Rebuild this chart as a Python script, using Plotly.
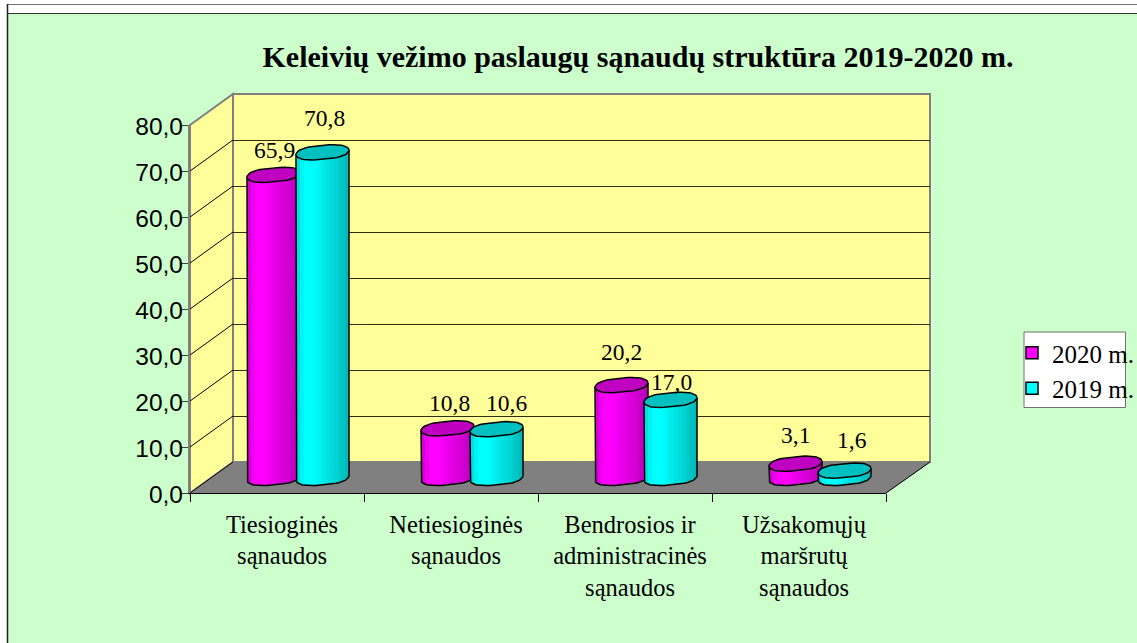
import plotly.graph_objects as go
import math

categories = ["Tiesioginės<br>sąnaudos", "Netiesioginės<br>sąnaudos",
              "Bendrosios ir<br>administracinės<br>sąnaudos", "Užsakomųjų<br>maršrutų<br>sąnaudos"]
values_2020 = [65.9, 10.8, 20.2, 3.1]
values_2019 = [70.8, 10.6, 17.0, 1.6]
y_ticks = [0, 10, 20, 30, 40, 50, 60, 70, 80]
series_names = ["2020 m.", "2019 m."]

W, H = 1137, 643
FRONT_L, FRONT_R, FRONT_B, FRONT_T = 190, 886, 493, 125
WALL_L, WALL_R, WALL_B, WALL_T = 233, 930, 462, 94
PX_PER_UNIT_Y = (FRONT_B - FRONT_T) / 80
PX_PER_CAT = (FRONT_R - FRONT_L) / 4
BAR_BASE_Y = 478
BAR_X0 = 212
PAD = 5  # data units below 0 / above 80 on bar axes

def fx(p): return p / W
def fy(p): return 1 - p / H

bar_dom_y = [fy(BAR_BASE_Y + PAD * PX_PER_UNIT_Y), fy(BAR_BASE_Y - 85 * PX_PER_UNIT_Y)]
bar_dom_x = [fx(BAR_X0), fx(BAR_X0 + 4 * PX_PER_CAT)]

BAR_W = 53 / PX_PER_CAT
OFFSETS = [-25.5 / PX_PER_CAT, 23.5 / PX_PER_CAT]
CAP_B = 7 / PX_PER_UNIT_Y
CAP_TILT = 2.2 / PX_PER_UNIT_Y
ROUND = 0.7

shade_mag = ["#D800D8", "#F000F0", "#FF00FF", "#FF00FF", "#FF00FF", "#F800F8", "#EE00EE", "#E800E8",
             "#E000E0", "#DA00DA", "#D400D4", "#CC00CC", "#C400C4", "#BC00BC"]
shade_cya = ["#00E0E0", "#00F4F4", "#00FFFF", "#00FFFF", "#00FFFF", "#00F8F8", "#00F0F0", "#00EAEA",
             "#00E2E2", "#00DCDC", "#00D4D4", "#00CCCC", "#00C4C4", "#00BABA"]
shades = [shade_mag, shade_cya]
base_col = ["#FF00FF", "#00FFFF"]
cap_col = ["#C000C0", "#00C0C0"]
series = [values_2020, values_2019]
label_nudge = [[(1, 25), (2, 34)], [(2, 25), (10, 26)], [(0, 33), (1, 18)], [(0, 29), (7, 31)]]

def ring(a):
    c = math.cos(a)
    return math.copysign(abs(c) ** ROUND, c), math.sin(a)

fig = go.Figure()

# carriers for the front axes, the back wall and the category labels
for xa, ya in [("x", "y"), ("x", "y5"), ("x2", "y2"), ("x5", "y")]:
    fig.add_trace(go.Scatter(x=[0], y=[0], xaxis=xa, yaxis=ya, mode="none", showlegend=False, hoverinfo="skip"))

for s, vals in enumerate(series):
    xa, ya = ("x3", "y3") if s == 0 else ("x4", "y4")
    xs = [i + OFFSETS[s] for i in range(4)]
    fig.add_trace(go.Bar(x=xs, y=vals, width=BAR_W * 0.7, name=series_names[s], xaxis=xa, yaxis=ya,
                         legendgroup=series_names[s],
                         marker=dict(color=base_col[s], line=dict(color="black", width=1.5)),
                         hoverinfo="skip"))
    n = len(shades[s])
    for k, col in enumerate(shades[s]):
        t = (k + 0.5) / n * 2 - 1
        dy = CAP_B * math.sqrt(max(0, 1 - abs(t) ** (2 / ROUND)))
        tilt = CAP_TILT * t
        fig.add_trace(go.Bar(x=[x + t * BAR_W / 2 for x in xs], y=[v + dy for v in vals],
                             base=[-dy + tilt] * 4, width=BAR_W / n * 1.02, xaxis=xa, yaxis=ya,
                             showlegend=False, hoverinfo="skip",
                             marker=dict(color=col, line=dict(width=0))))
    # outline of the side, and the cap
    ox, oy, cx, cy = [], [], [], []
    N = 24
    for x, v in zip(xs, vals):
        ox.append(x - BAR_W / 2); oy.append(v - CAP_TILT)
        for j in range(N + 1):
            rx, ry = ring(math.pi + math.pi * j / N)
            ox.append(x + rx * BAR_W / 2)
            oy.append(CAP_B * ry + CAP_TILT * rx)
        ox.append(x + BAR_W / 2); oy.append(v + CAP_TILT)
        ox.append(None); oy.append(None)
        for j in range(2 * N + 1):
            rx, ry = ring(math.pi * j / N)
            cx.append(x + rx * BAR_W / 2)
            cy.append(v + CAP_B * ry + CAP_TILT * rx)
        cx.append(None); cy.append(None)
    fig.add_trace(go.Scatter(x=ox, y=oy, xaxis=xa, yaxis=ya, mode="lines",
                             line=dict(color="black", width=1.5), showlegend=False, hoverinfo="skip"))
    fig.add_trace(go.Scatter(x=cx, y=cy, xaxis=xa, yaxis=ya, mode="lines", fill="toself",
                             fillcolor=cap_col[s], line=dict(color="black", width=1.5),
                             showlegend=False, hoverinfo="skip"))

annotations = []
for i in range(4):
    for s, vals in enumerate(series):
        nx, ny = label_nudge[i][s]
        annotations.append(dict(x=i + OFFSETS[s], y=vals[i], xref="x3", yref="y3",
                                text=f"{vals[i]:.1f}".replace(".", ","), showarrow=False,
                                xshift=nx, yshift=ny,
                                font=dict(family="Liberation Serif", size=23.5, color="black")))

def line(x0, y0, x1, y1, color, w=1):
    return dict(type="line", xref="paper", yref="paper", x0=fx(x0), y0=fy(y0), x1=fx(x1), y1=fy(y1),
                line=dict(color=color, width=w), layer="below")

def poly(pts, fill, color, w=1):
    path = "M " + " L ".join(f"{fx(a):.5f},{fy(b):.5f}" for a, b in pts) + " Z"
    return dict(type="path", xref="paper", yref="paper", path=path, fillcolor=fill,
                line=dict(color=color, width=w), layer="below")

shapes = [
    dict(type="rect", xref="paper", yref="paper", x0=fx(8), x1=1, y0=0, y1=fy(14),
         fillcolor="#CCFFCC", line=dict(width=0), layer="below"),
    line(7, 4.5, W, 4.5, "#707070"),
    line(7, 13.5, W, 13.5, "#333333"),
    line(7.5, 4, 7.5, H, "#222222", 1.5),
    poly([(WALL_L, WALL_T), (WALL_R, WALL_T), (WALL_R, WALL_B), (WALL_L, WALL_B)], "#FFFF99", "#808080", 2),
    poly([(FRONT_L, FRONT_T), (WALL_L, WALL_T), (WALL_L, WALL_B), (FRONT_L, FRONT_B)], "#FFFF99", "#808080", 2),
    poly([(FRONT_L, FRONT_B), (FRONT_R, FRONT_B), (WALL_R, WALL_B), (WALL_L, WALL_B)], "#808080", "#808080", 1),
    line(FRONT_L, FRONT_B, WALL_L, WALL_B, "#000000"),
    line(FRONT_R, FRONT_B, WALL_R, WALL_B, "#000000"),
    poly([(1024, 332), (1125.5, 332), (1125.5, 407.5), (1024, 407.5)], "#FFFFFF", "#707070", 1),
]
for v in y_ticks[1:-1]:
    yf = FRONT_B - v * PX_PER_UNIT_Y
    yw = WALL_B - v * PX_PER_UNIT_Y
    shapes.append(line(FRONT_L, yf, WALL_L, yw, "#000000"))

hidden = dict(visible=False, fixedrange=True)
layout = dict(
    width=W, height=H, margin=dict(l=0, r=0, t=0, b=0, autoexpand=False),
    paper_bgcolor="white", plot_bgcolor="rgba(0,0,0,0)",
    barmode="overlay", bargap=0, separators=",.",
    title=dict(text="<b>Keleivių vežimo paslaugų sąnaudų struktūra 2019-2020 m.</b>",
               x=638 / W, xanchor="center", xref="paper", y=fy(56), yanchor="middle", yref="paper",
               font=dict(family="Liberation Serif", size=30, color="black")),
    xaxis=dict(domain=[fx(FRONT_L), fx(FRONT_R)], range=[-0.5, 3.5], anchor="y",
               tickmode="array", tickvals=[-0.5, 0.5, 1.5, 2.5, 3.5], ticktext=[""] * 5,
               ticks="outside", ticklen=8, tickcolor="#000000", showline=True, linecolor="#000000",
               showgrid=False, zeroline=False, fixedrange=True),
    yaxis=dict(domain=[fy(FRONT_B), fy(FRONT_T)], range=[0, 80], anchor="x",
               tickmode="array", tickvals=y_ticks, showticklabels=False,
               ticks="outside", ticklen=7, tickcolor="#404040", showline=True, linecolor="#808080", linewidth=2,
               showgrid=False, zeroline=False, fixedrange=True),
    yaxis5=dict(domain=[fy(FRONT_B + 1), fy(FRONT_T + 1)], range=[0, 80], anchor="x",
                tickmode="array", tickvals=y_ticks, tickformat=".1f", ticks="", ticklabelstandoff=6,
                showline=False, showgrid=False, zeroline=False, fixedrange=True,
                tickfont=dict(family="Liberation Sans", size=24.5, color="black")),
    xaxis2=dict(domain=[fx(WALL_L), fx(WALL_R)], range=[-0.5, 3.5], anchor="y2", **hidden),
    yaxis2=dict(domain=[fy(WALL_B), fy(WALL_T)], range=[0, 80], anchor="x2", visible=True,
                tickmode="array", tickvals=y_ticks[1:-1], showticklabels=False, ticks="",
                showgrid=True, gridcolor="#303010", gridwidth=1, zeroline=False, showline=False, fixedrange=True),
    xaxis3=dict(domain=bar_dom_x, range=[-0.5, 3.5], anchor="y3", **hidden),
    yaxis3=dict(domain=bar_dom_y, range=[-PAD, 85], anchor="x3", **hidden),
    xaxis4=dict(domain=bar_dom_x, range=[-0.5, 3.5], anchor="y4", **hidden),
    yaxis4=dict(domain=bar_dom_y, range=[-PAD, 85], anchor="x4", **hidden),
    xaxis5=dict(domain=[fx(FRONT_L + 5), fx(FRONT_R + 5)], range=[-0.5, 3.5], anchor="y",
                tickmode="array", tickvals=list(range(4)), ticktext=categories, ticks="",
                ticklabelstandoff=14, showline=False, showgrid=False, zeroline=False, fixedrange=True,
                tickfont=dict(family="Liberation Serif", size=24.5, color="black")),
    legend=dict(x=fx(1012), y=fy(330), xanchor="left", yanchor="top", bgcolor="rgba(0,0,0,0)",
                borderwidth=0, tracegroupgap=4, traceorder="normal",
                font=dict(family="Liberation Serif", size=25, color="black")),
    annotations=annotations, shapes=shapes, showlegend=True,
)
fig.update_layout(**layout)
fig.write_html("out.html", config=dict(displayModeBar=False),
               post_script="document.body.style.margin='0';document.body.style.overflow='hidden';")
